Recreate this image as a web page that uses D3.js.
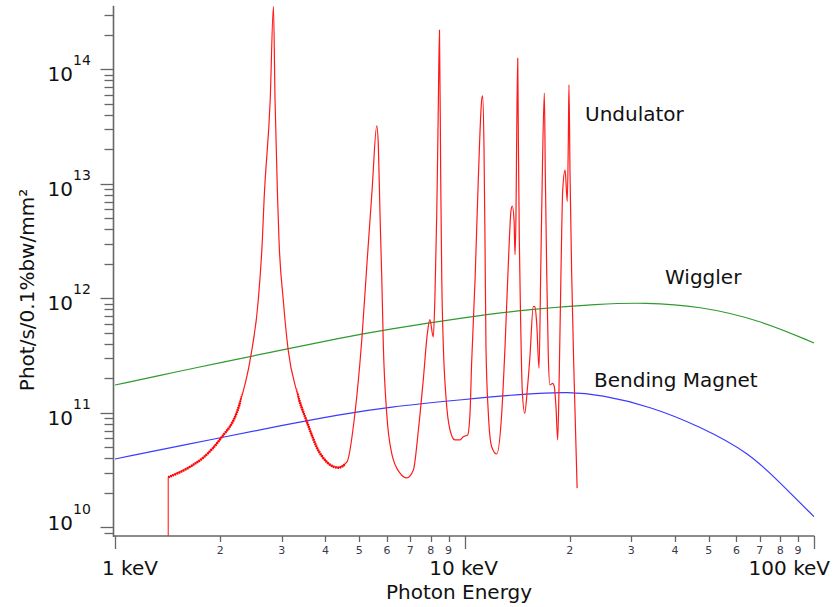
<!DOCTYPE html>
<html>
<head>
<meta charset="utf-8">
<script src="https://cdn.jsdelivr.net/npm/d3@7"></script>
<style>
  html, body { margin: 0; padding: 0; background: #fff; }
  svg { display: block; font-family: "DejaVu Sans", sans-serif; }
</style>
</head>
<body>
<svg id="chart" width="834" height="607"></svg>
<script>
// Photon energy in keV, flux in phot/s/0.1%bw/mm²
const bendingMagnet = [
  [1, 3.95e10], [2, 6.06e10], [3, 7.75e10], [4.4, 9.66e10], [6, 1.12e11],
  [10, 1.31e11], [15, 1.47e11], [20, 1.52e11], [24.4, 1.44e11], [34, 1.14e11],
  [47.2, 7.6e10], [65.6, 4.43e10], [80, 2.44e10], [100, 1.24e10]
];

const wiggler = [
  [1, 1.75e11], [1.5, 2.28e11], [2, 2.74e11], [3, 3.54e11], [4.4, 4.5e11],
  [6, 5.34e11], [10, 6.81e11], [15, 7.98e11], [24.4, 8.92e11], [32.7, 9.19e11],
  [47, 8.57e11], [70, 6.46e11], [100, 4.07e11]
];

const undulator = [
  [1.42, 2.74e10], [1.64, 3.38e10], [1.81, 4.19e10], [2.00, 5.9e10], [2.26, 1.13e11],
  [2.445, 3.09e11], [2.57, 9.67e11], [2.64, 3.23e12], [2.67, 7.2e12], [2.78, 5.4e13],
  [2.84, 3.55e14], [2.87, 5.4e13], [2.92, 7.2e12], [2.946, 3.23e12], [3.03, 9.67e11],
  [3.13, 3.53e11], [3.31, 1.55e11], [3.54, 8.36e10], [3.86, 4.43e10], [4.35, 3.32e10],
  [4.61, 3.72e10], [4.86, 9.96e10], [5.09, 4.59e11], [5.26, 2.03e12], [5.44, 8.83e12],
  [5.61, 3.2e13], [5.67, 2.11e13], [5.73, 5.52e12], [5.80, 1.45e12], [5.86, 3.78e11],
  [5.99, 9.9e10], [6.19, 4.43e10], [6.54, 2.97e10], [6.83, 2.7e10], [7.14, 3.17e10],
  [7.38, 7.08e10], [7.62, 1.93e11], [7.83, 4.94e11], [7.96, 6.5e11], [8.14, 4.6e11],
  [8.23, 1.03e12], [8.33, 5.52e12], [8.41, 4.13e13], [8.48, 2.2e14], [8.55, 1.08e13],
  [8.61, 1.45e12], [8.70, 3.78e11], [8.85, 1.38e11], [9.09, 7.08e10], [9.39, 5.8e10],
  [9.71, 5.8e10], [9.92, 6.18e10], [10.21, 6.4e10], [10.37, 9.9e10], [10.48, 2.7e11],
  [10.72, 1.45e12], [10.95, 1.08e13], [11.20, 5.4e13], [11.27, 5.85e13], [11.37, 2.11e13],
  [11.45, 2.83e12], [11.52, 3.78e11], [11.70, 9.9e10], [11.96, 5.06e10], [12.37, 4.37e10],
  [12.78, 9.9e10], [13.06, 3.78e11], [13.35, 2.02e12], [13.59, 5.9e12], [13.70, 6.4e12],
  [13.86, 4.83e12], [13.95, 2.4e12], [14.04, 5.56e12], [14.11, 2.95e13], [14.20, 1.25e14],
  [14.26, 2.42e13], [14.35, 3.23e12], [14.48, 6.05e11], [14.63, 1.58e11], [14.87, 9.9e10],
  [15.12, 1.58e11], [15.39, 3.09e11], [15.73, 8.45e11], [15.91, 8.45e11], [16.09, 6.05e11],
  [16.34, 2.45e11], [16.52, 1.65e12], [16.70, 1.24e13], [16.92, 6.2e13], [17.03, 1.24e13],
  [17.19, 1.65e12], [17.37, 3.09e11], [17.56, 1.75e11], [17.88, 1.81e11], [18.07, 1.69e11],
  [18.27, 1.13e11], [18.48, 5.8e10], [18.67, 2.21e11], [18.88, 1.65e12], [19.10, 8.83e12],
  [19.40, 1.32e13], [19.68, 7.0e12], [19.82, 2.42e13], [19.90, 7.3e13], [20.04, 1.24e13],
  [20.26, 1.65e12], [20.57, 2.21e11], [21.0, 2.2e10]
];

// Energy bands where the undulator trace is drawn with its dense ripple (heavier stroke)
const rippleBands = [[1.42, 2.3], [3.35, 4.55]];

const xDecades = [1, 10, 100];
const xDecadeLabels = ["1 keV", "10 keV", "100 keV"];
const xMinorSteps = [2, 3, 4, 5, 6, 7, 8, 9];
const yExponents = [10, 11, 12, 13, 14];

const seriesLabels = [
  { text: "Undulator", x: 585, y: 121 },
  { text: "Wiggler", x: 665, y: 284 },
  { text: "Bending Magnet", x: 594, y: 387 }
];

const svg = d3.select("#chart");
svg.append("rect").attr("width", 834).attr("height", 607).attr("fill", "#fff");

const x = d3.scaleLog().domain([1, 100]).range([115, 814]);
const y = d3.scaleLog().domain([8.4e9, 3.59e14]).range([536, 5.7]);

const axisColor = "#666";
const axisLeft = 113.5, axisBottom = 536;

// Axis lines
svg.append("line").attr("x1", axisLeft).attr("x2", axisLeft)
  .attr("y1", y.range()[1]).attr("y2", axisBottom + 1)
  .attr("stroke", axisColor).attr("stroke-width", 1.6);
svg.append("line").attr("x1", axisLeft).attr("x2", x(100) + 0.5)
  .attr("y1", axisBottom).attr("y2", axisBottom)
  .attr("stroke", axisColor).attr("stroke-width", 1.6);

// Y ticks: every 1..9 × 10^k inside the domain
const yTicks = [];
for (let k = 9; k <= 14; k++) {
  for (let m = 1; m <= 9; m++) {
    const v = m * Math.pow(10, k);
    if (v >= y.domain()[0] && v <= y.domain()[1]) yTicks.push({ v, major: m === 1 });
  }
}
svg.append("g").selectAll("line").data(yTicks).join("line")
  .attr("x1", d => axisLeft - (d.major ? 13 : 9)).attr("x2", axisLeft)
  .attr("y1", d => Math.round(y(d.v)) + 0.5).attr("y2", d => Math.round(y(d.v)) + 0.5)
  .attr("stroke", axisColor).attr("stroke-width", 1.3);

// Y tick labels as 10 with a superscript exponent
const yLab = svg.append("g").attr("fill", "#111");
yExponents.forEach(e => {
  const ty = Math.min(y(Math.pow(10, e)) + 12, 530);
  yLab.append("text").attr("x", 73).attr("y", ty).attr("text-anchor", "end")
    .attr("font-size", 20).text("10");
  yLab.append("text").attr("x", 73).attr("y", ty - 16)
    .attr("font-size", 14).text(String(e));
});

// X ticks
const xTicks = [];
xDecades.forEach(d => {
  xTicks.push({ v: d, major: true });
  if (d < 100) xMinorSteps.forEach(m => xTicks.push({ v: d * m, major: false }));
});
svg.append("g").selectAll("line").data(xTicks).join("line")
  .attr("x1", d => Math.round(x(d.v)) + 0.5).attr("x2", d => Math.round(x(d.v)) + 0.5)
  .attr("y1", axisBottom).attr("y2", d => axisBottom + (d.major ? 13 : 6))
  .attr("stroke", axisColor).attr("stroke-width", 1.3);

svg.append("g").selectAll("text").data(xTicks.filter(d => !d.major)).join("text")
  .attr("x", d => x(d.v)).attr("y", axisBottom + 18)
  .attr("text-anchor", "middle").attr("font-size", 11).attr("fill", "#3a3a4a")
  .text(d => String(Math.round(d.v / Math.pow(10, Math.floor(Math.log10(d.v))))));

// Decade labels (outer ones kept inside the canvas)
const anchors = ["start", "middle", "end"];
const decadeX = [102, x(10) - 1, 830];
svg.append("g").selectAll("text").data(xDecadeLabels).join("text")
  .attr("x", (d, i) => decadeX[i]).attr("y", 575)
  .attr("text-anchor", (d, i) => anchors[i]).attr("font-size", 20).attr("fill", "#111")
  .text(d => d);

// Axis titles
svg.append("text").attr("x", 459).attr("y", 599).attr("text-anchor", "middle")
  .attr("font-size", 20).attr("fill", "#111").text("Photon Energy");
svg.append("text").attr("transform", "translate(34,290) rotate(-90)")
  .attr("text-anchor", "middle").attr("font-size", 20).attr("fill", "#111")
  .text("Phot/s/0.1%bw/mm²");

// Curves
const smooth = d3.line().x(d => x(d[0])).y(d => y(d[1])).curve(d3.curveBasis);
const line = d3.line().x(d => x(d[0])).y(d => y(d[1])).curve(d3.curveMonotoneX);

svg.append("path").datum(wiggler).attr("d", smooth)
  .attr("fill", "none").attr("stroke", "#2f9a2f").attr("stroke-width", 1.2);
svg.append("path").datum(bendingMagnet).attr("d", smooth)
  .attr("fill", "none").attr("stroke", "#3b3bff").attr("stroke-width", 1.2);

const defs = svg.append("defs");
const clip = defs.append("clipPath").attr("id", "ripple-clip");
rippleBands.forEach(b => {
  clip.append("rect").attr("x", x(b[0]) - 1).attr("y", 0)
    .attr("width", x(b[1]) - x(b[0]) + 1).attr("height", 607);
});

// Undulator: vertical onset at its first energy, then the harmonic structure
svg.append("line")
  .attr("x1", x(undulator[0][0])).attr("x2", x(undulator[0][0]))
  .attr("y1", axisBottom).attr("y2", y(undulator[0][1]))
  .attr("stroke", "#ff2020").attr("stroke-width", 1.1);
svg.append("path").datum(undulator).attr("d", line)
  .attr("fill", "none").attr("stroke", "#ff1a1a").attr("stroke-width", 1.2)
  .attr("stroke-linejoin", "round");
svg.append("path").datum(undulator).attr("d", line)
  .attr("clip-path", "url(#ripple-clip)")
  .attr("fill", "none").attr("stroke", "#ff0000").attr("stroke-width", 2.6)
  .attr("stroke-dasharray", "1.5,0.8");

// Series labels
svg.append("g").selectAll("text").data(seriesLabels).join("text")
  .attr("x", d => d.x).attr("y", d => d.y)
  .attr("font-size", 20).attr("fill", "#111").text(d => d.text);
</script>
</body>
</html>
